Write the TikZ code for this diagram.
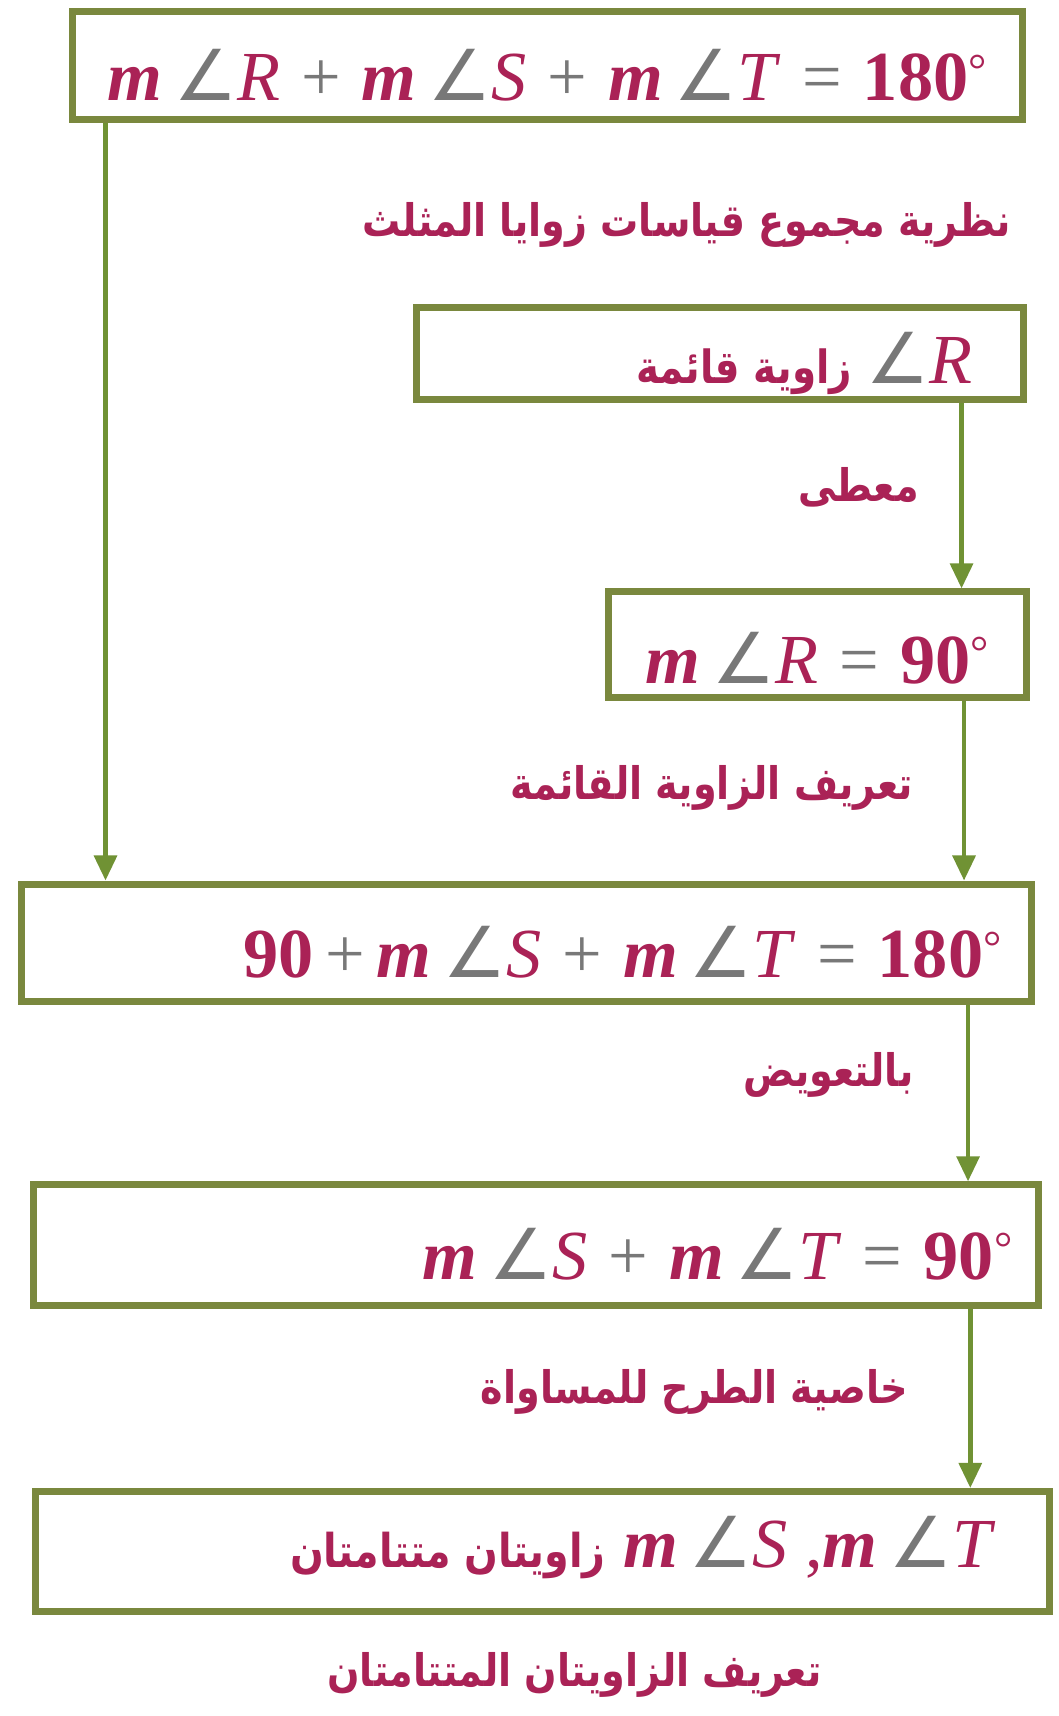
\documentclass[tikz,border=0pt]{standalone}
\usepackage{fontspec}
\setmainfont{Liberation Serif}
\newfontfamily\arabicfont[Script=Arabic,FakeStretch=0.85]{DejaVu Sans}
\newfontfamily\symfnt{DejaVu Sans}
\TeXXeTstate=1
\usepackage{tikz}
\usetikzlibrary{arrows.meta,positioning}
\usepackage{xcolor}
\definecolor{framegreen}{RGB}{122,136,62}
\definecolor{arrowgreen}{RGB}{112,146,52}
\definecolor{proofred}{RGB}{170,34,86}
\definecolor{opgray}{RGB}{120,120,120}
\newcommand{\artxt}[2][25.5]{\mbox{\arabicfont\bfseries\fontsize{#1}{28}\selectfont\beginR #2\endR}}
\newcommand{\opr}[1]{\hspace{0.3em}{\color{opgray}#1}\hspace{0.3em}}
\newcommand{\mang}[1]{\textbf{\textit{m}}\,{\color{opgray}\symfnt ∠}\textit{#1}}
\newcommand{\dgr}{\raisebox{0.22em}{\mdseries\fontsize{26}{28}\selectfont °}}
\newcommand{\rline}[2]{\makebox[#1][r]{#2}}

\begin{document}
\begin{tikzpicture}[
    stepbox/.style={draw=framegreen,line width=4pt,fill=white,inner ysep=0pt,text depth=0pt,text=proofred,font=\fontsize{40}{42}\selectfont},
    reason/.style={text=proofred,inner sep=0pt},
    link/.style={draw=arrowgreen,line width=2.6pt,-{Triangle[width=0.45cm,length=0.5cm]}}
]
\path[fill=white] (0,0) rectangle (21.16,-34.31);

% Steps
\node[stepbox,minimum width=19cm,minimum height=2.16cm,text height=1.4cm] (b1) at (10.94,-1.31) {\mang{R}\opr{+}\mang{S}\opr{+}\mang{T}\opr{=}\textbf{180}\dgr};
\node[stepbox,minimum height=1.85cm,text height=1.2cm,inner xsep=1.03cm] (b2) at (14.40,-7.07) {\rline{10.07cm}{\artxt[26]{زاوية قائمة}\hspace{0.2em}{\color{opgray}\symfnt ∠}\textit{R}}};
\node[stepbox,minimum width=8.35cm,minimum height=2.11cm,text height=1.55cm] (b3) at (16.34,-12.89) {\mang{R}\opr{=}\textbf{90}\dgr};
\node[stepbox,minimum height=2.35cm,text height=1.4cm,inner xsep=0.6cm] (b4) at (10.53,-18.85) {\rline{18.99cm}{\textbf{90}\,{\color{opgray}+}\,\mang{S}\opr{+}\mang{T}\opr{=}\textbf{180}\dgr}};
\node[stepbox,minimum height=2.42cm,text height=1.35cm,inner xsep=0.53cm] (b5) at (10.72,-24.90) {\rline{19.04cm}{\mang{S}\opr{+}\mang{T}\opr{=}\textbf{90}\dgr}};
\node[stepbox,minimum height=2.40cm,text height=0.66cm,inner xsep=1.08cm] (b6) at (10.85,-31.02) {\rline{18.11cm}{\artxt[26.5]{زاويتان متتامتان} \mang{S} ,\mang{T}}};

% Reasons
\node[reason] (r1) at (13.73,-4.49) {\artxt{نظرية مجموع قياسات زوايا المثلث}};
\node[reason,anchor=east] (r2) at (18.38,-9.74) {\artxt{معطى}};
\node[reason,anchor=east] (r3) at (18.27,-15.76) {\artxt{تعريف الزاوية القائمة}};
\node[reason,anchor=east] (r4) at (18.27,-21.49) {\artxt{بالتعويض}};
\node[reason,anchor=east] (r5) at (18.16,-27.83) {\artxt{خاصية الطرح للمساواة}};
\node[reason] (r6) at (11.49,-33.48) {\artxt{تعريف الزاويتان المتتامتان}};

% Links
\coordinate (s1) at ([xshift=0.74cm]b1.south west);
\coordinate (s2) at ([xshift=-1.31cm]b2.south east);
\coordinate (s3) at ([xshift=-1.31cm]b3.south east);
\coordinate (s4) at ([xshift=-1.34cm]b4.south east);
\coordinate (s5) at ([xshift=-1.44cm]b5.south east);
\draw[link] (s1) -- (s1 |- b4.north);
\draw[link] (s2) -- (s2 |- b3.north);
\draw[link] (s3) -- (s3 |- b4.north);
\draw[link] (s4) -- (s4 |- b5.north);
\draw[link] (s5) -- (s5 |- b6.north);
\end{tikzpicture}
\end{document}
